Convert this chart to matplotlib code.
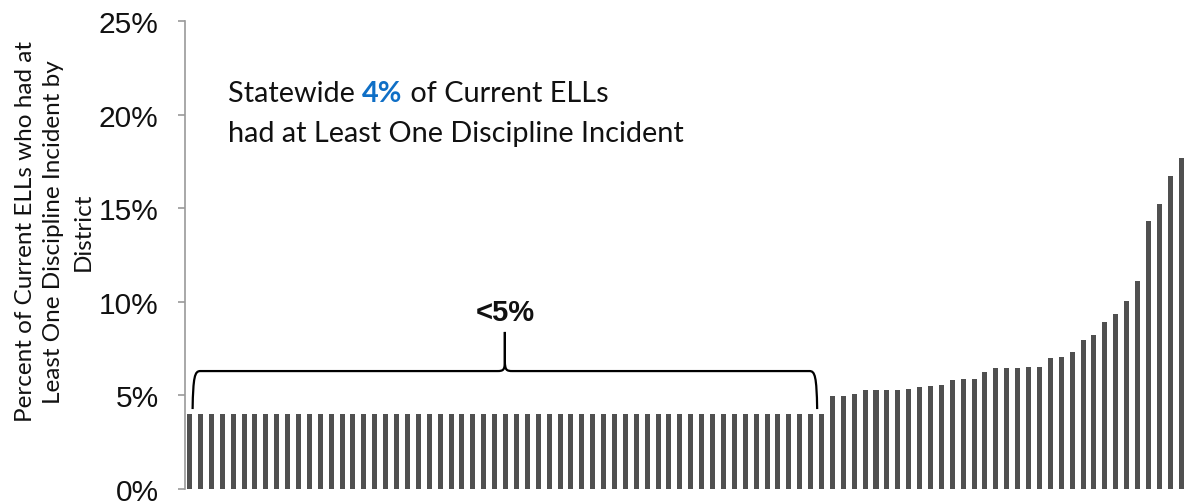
import matplotlib
matplotlib.use("Agg")
import matplotlib.pyplot as plt
from matplotlib.path import Path
from matplotlib.patches import PathPatch
import numpy as np

# ---- data (percent of current ELLs with >=1 discipline incident, by district, sorted) ----
low_group = [4.0, 4.0, 4.0, 4.0, 4.0, 4.0, 4.0, 4.0, 4.0, 4.0,
             4.0, 4.0, 4.0, 4.0, 4.0, 4.0, 4.0, 4.0, 4.0, 4.0,
             4.0, 4.0, 4.0, 4.0, 4.0, 4.0, 4.0, 4.0, 4.0, 4.0,
             4.0, 4.0, 4.0, 4.0, 4.0, 4.0, 4.0, 4.0, 4.0, 4.0,
             4.0, 4.0, 4.0, 4.0, 4.0, 4.0, 4.0, 4.0, 4.0, 4.0,
             4.0, 4.0, 4.0, 4.0, 4.0, 4.0, 4.0, 4.0, 4.0]
high_group = [4.95, 4.98, 5.07, 5.27, 5.27, 5.29, 5.31, 5.32, 5.43, 5.52,
              5.56, 5.84, 5.89, 5.89, 6.25, 6.45, 6.45, 6.48, 6.50, 6.54,
              6.98, 7.05, 7.34, 7.94, 8.21, 8.94, 9.35, 10.03, 11.13, 14.32,
              15.24, 16.70, 17.67]
values = low_group + high_group
districts = list(range(1, len(values) + 1))

y_ticks = [0, 5, 10, 15, 20, 25]
y_tick_labels = ["0%", "5%", "10%", "15%", "20%", "25%"]

statewide_label = "4%"
bracket_label = "<5%"
y_label = "Percent of Current ELLs who had at\nLeast One Discipline Incident by\nDistrict"

BAR_COLOR = "#505050"
BLUE = "#0F6FC6"

fig = plt.figure(figsize=(11.88, 5.02), dpi=100)
ax = fig.add_axes([0.1557, 12 / 502, 1186 / 1188 - 0.1557, (490 - 22) / 502])

x = np.arange(len(values))
ax.bar(x, values, width=0.46, color=BAR_COLOR, edgecolor="none")

ax.set_xlim(-0.42, len(values) - 1 + 0.45)
ax.set_ylim(0, 25)
ax.set_yticks(y_ticks)
ax.set_yticklabels(y_tick_labels, fontsize=21.5, family="Liberation Sans", color="#111111")
ax.set_xticks([])
for s in ["top", "right", "bottom"]:
    ax.spines[s].set_visible(False)
ax.spines["left"].set_color("#9A9A9A")
ax.spines["left"].set_linewidth(1.2)
ax.tick_params(axis="y", direction="out", length=5, width=1.2, color="#9A9A9A", pad=14)
for lbl in ax.get_yticklabels():
    lbl.set_clip_on(False)

fig.text(54 / 1188, 1 - 232 / 502, y_label, rotation=90, ha="center", va="center",
         multialignment="center", fontsize=17.5, family="Lato", linespacing=1.47,
         color="#111111")

# ---- statewide annotation with mixed styling ----
FS = 20.8
t1 = fig.text(228 / 1188, 1 - 102 / 502, "Statewide ", fontsize=FS, family="Lato",
              color="#111111", va="baseline")
t2 = ax.annotate(statewide_label, xycoords=t1, xy=(1, 0), va="bottom", fontsize=FS,
                 family="Lato", fontweight="bold", color=BLUE)
t3 = ax.annotate(" of Current ELLs", xycoords=t2, xy=(1, 0), va="bottom", fontsize=FS,
                 family="Lato", color="#111111")
fig.text(228 / 1188, 1 - 142 / 502, "had at Least One Discipline Incident", fontsize=FS,
         family="Lato", color="#111111", va="baseline")

# ---- curly brace over the low group ----
n_low = len(low_group)
x0, x1 = 0.28, n_low - 1 - 0.4
xm = (x0 + x1) / 2
yb, yh, yt = 4.27, 6.30, 8.39
dx, dy = 0.7, 0.55
verts = [
    (x0, yb), (x0 + 0.05, yh - 0.3), (x0 + 0.2, yh), (x0 + dx, yh),
    (xm - dx, yh),
    (xm - 0.15, yh), (xm, yh + 0.05), (xm, yh + dy),
    (xm, yt),
    (xm, yt),
    (xm, yh + dy),
    (xm, yh + 0.05), (xm + 0.15, yh), (xm + dx, yh),
    (x1 - dx, yh),
    (x1 - 0.2, yh), (x1 - 0.05, yh - 0.3), (x1, yb),
]
codes = [
    Path.MOVETO, Path.CURVE4, Path.CURVE4, Path.CURVE4,
    Path.LINETO,
    Path.CURVE4, Path.CURVE4, Path.CURVE4,
    Path.LINETO,
    Path.MOVETO,
    Path.LINETO,
    Path.CURVE4, Path.CURVE4, Path.CURVE4,
    Path.LINETO,
    Path.CURVE4, Path.CURVE4, Path.CURVE4,
]
ax.add_patch(PathPatch(Path(verts, codes), facecolor="none", edgecolor="black",
                       linewidth=1.6, clip_on=False))
ax.text(xm, yt + 0.3, bracket_label, ha="center", va="bottom", fontsize=21,
        family="Liberation Sans", fontweight="bold", color="#111111")

fig.savefig("out.png", dpi=100)
